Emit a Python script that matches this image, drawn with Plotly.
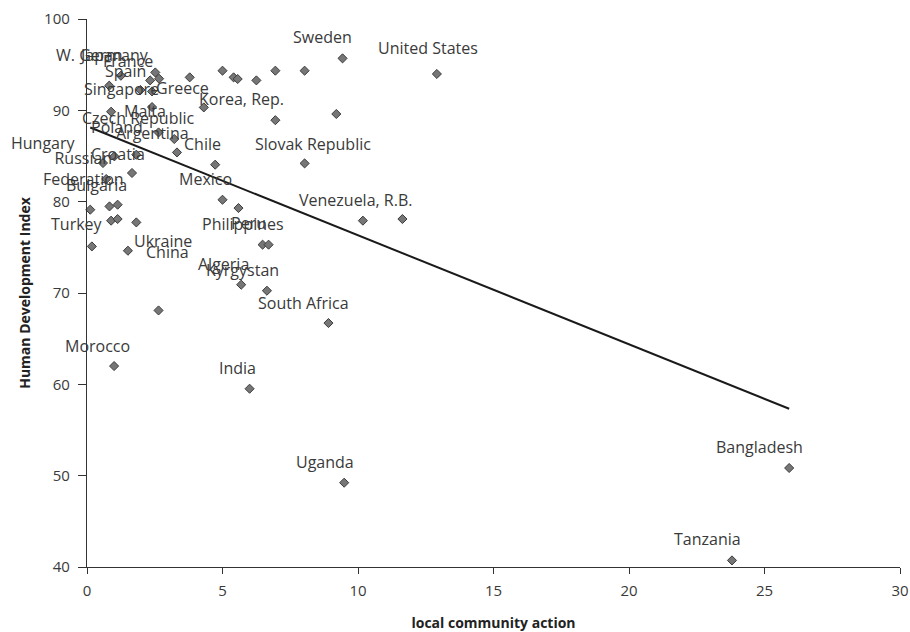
import plotly.graph_objects as go

# Country labels ("" = unlabeled point)
countries = [
    "W. Germany", "Japan", "", "France", "", "Spain", "", "", "Greece", "",
    "", "", "", "", "Korea, Rep.", "", "Sweden", "United States", "", "Slovak Republic",
    "", "Singapore", "Malta", "Czech Republic", "Argentina", "Chile", "Hungary", "", "Poland", "Croatia",
    "Russian<br>Federation", "Bulgaria", "", "", "", "", "", "Turkey", "Ukraine", "China",
    "Mexico", "", "Philippines", "Peru", "Algeria", "Kyrgystan", "South Africa", "Venezuela, R.B.", "", "Morocco",
    "India", "Uganda", "Bangladesh", "Tanzania",
]

# local community action (%)
community_action = [
    0.82, 1.25, 2.52, 2.33, 2.66, 1.97, 2.40, 3.79, 4.31, 5.00,
    5.41, 5.56, 6.25, 6.95, 6.95, 8.03, 9.43, 12.91, 9.20, 8.03,
    0.89, 2.40, 2.64, 3.22, 3.32, 4.73, 0.59, 1.01, 1.82, 1.66,
    0.71, 1.13, 0.83, 0.12, 0.89, 1.13, 1.82, 0.18, 1.51, 2.64,
    5.00, 5.59, 6.48, 6.70, 5.69, 6.64, 8.91, 10.18, 11.64, 1.00,
    6.00, 9.49, 25.91, 23.80,
]

# Human Development Index (x100)
hdi = [
    92.70, 93.79, 94.15, 93.28, 93.46, 92.23, 92.07, 93.61, 90.32, 94.34,
    93.61, 93.43, 93.28, 94.34, 88.92, 94.34, 95.69, 93.98, 89.60, 84.19,
    89.85, 90.36, 87.58, 86.86, 85.39, 84.05, 84.23, 84.96, 85.14, 83.14,
    82.48, 79.67, 79.48, 79.12, 77.92, 78.10, 77.73, 75.10, 74.63, 68.09,
    80.21, 79.30, 75.29, 75.29, 70.91, 70.25, 66.71, 77.92, 78.10, 62.00,
    59.52, 49.23, 50.84, 40.72,
]

# Linear trend line
trend_intercept = 88.26
trend_slope = -1.194

x_ticks = [0, 5, 10, 15, 20, 25, 30]
y_ticks = [40, 50, 60, 70, 80, 90, 100]

# Label placement relative to each point, in screen pixels (dx right, dy down)
DEFAULT_SHIFT = (-20, -21)
LABEL_SHIFT = {
    "W. Germany": (-7, -31), "France": (-22, -19), "Spain": (-15, -19),
    "Greece": (-21, -19), "Korea, Rep.": (-34, -21), "United States": (-9, -26),
    "Slovak Republic": (8, -19), "Singapore": (-31, -18), "Malta": (-14, -21),
    "Czech Republic": (-36, -21), "Argentina": (-24, -19), "Chile": (-13, -21),
    "Hungary": (-59, -20), "Poland": (-19, -28), "Croatia": (-14, -19),
    "Russian<br>Federation": (-23, -11), "Bulgaria": (-21, -20), "Turkey": (-15, -22),
    "Ukraine": (35, -10), "China": (9, -58), "Mexico": (-17, -21),
    "Peru": (-20, -22), "Algeria": (-18, -21), "Kyrgystan": (-24, -21),
    "South Africa": (-25, -20), "Venezuela, R.B.": (-7, -21), "Morocco": (-17, -20),
    "India": (-12, -21), "Uganda": (-19, -21), "Bangladesh": (-30, -21),
    "Tanzania": (-24, -21),
}

FONT = "Open Sans"
TEXT_COLOR = "#3a3a3a"

fig = go.Figure()

x_lo, x_hi = min(community_action), max(community_action)
fig.add_trace(go.Scatter(
    x=[x_lo, x_hi],
    y=[trend_intercept + trend_slope * x_lo, trend_intercept + trend_slope * x_hi],
    mode="lines",
    line=dict(color="#1a1a1a", width=2),
    hoverinfo="skip",
    showlegend=False,
))

fig.add_trace(go.Scatter(
    x=community_action,
    y=hdi,
    mode="markers",
    marker=dict(symbol="diamond", size=7, color="#767676",
                line=dict(color="#3c3c3c", width=1)),
    text=countries,
    cliponaxis=False,
    showlegend=False,
))

for name, xv, yv in zip(countries, community_action, hdi):
    if not name:
        continue
    dx, dy = LABEL_SHIFT.get(name, DEFAULT_SHIFT)
    fig.add_annotation(
        x=xv, y=yv, text=name, showarrow=False,
        xanchor="center", yanchor="middle",
        xshift=dx, yshift=-dy,
        font=dict(family=FONT, size=16, color=TEXT_COLOR),
    )

axis_common = dict(
    showline=True, linecolor="#333333", linewidth=1.3,
    ticks="outside", tickcolor="#333333", tickwidth=1.3,
    showgrid=False, zeroline=False, automargin=False,
    tickfont=dict(family=FONT, size=15, color=TEXT_COLOR),
)

fig.update_layout(
    width=910, height=632,
    margin=dict(l=87, r=10, t=19, b=65),
    paper_bgcolor="white", plot_bgcolor="white",
    xaxis=dict(
        range=[0, 30], tickvals=x_ticks, ticklen=6, ticklabelstandoff=4,
        title=dict(text="<b>local community action</b>",
                   font=dict(family=FONT, size=14, color="#222222"), standoff=20),
        **axis_common,
    ),
    yaxis=dict(
        range=[40, 100], tickvals=y_ticks, ticklen=8, ticklabelstandoff=5,
        title=dict(text="<b>Human Development Index</b>",
                   font=dict(family=FONT, size=14, color="#222222"), standoff=10),
        **axis_common,
    ),
)

fig.write_html("out.html")
